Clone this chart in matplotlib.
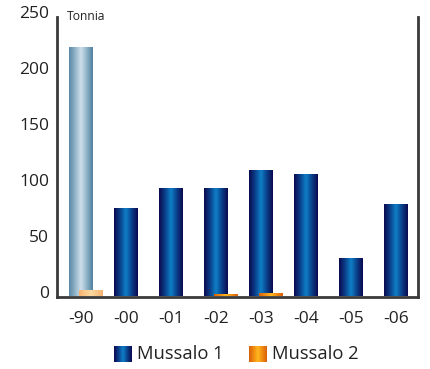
import numpy as np
import matplotlib
matplotlib.use("Agg")
import matplotlib.pyplot as plt
import matplotlib.transforms as mtrans
from matplotlib.colors import LinearSegmentedColormap

categories = ["-90", "-00", "-01", "-02", "-03", "-04", "-05", "-06"]
mussalo1 = [222, 78, 96, 96, 112, 109, 33.5, 82]
mussalo2 = [5, 0, 0, 1.3, 2, 0, 0, 0]
series_names = ["Mussalo 1", "Mussalo 2"]
unit_label = "Tonnia"
yticks = [0, 50, 100, 150, 200, 250]

plt.rcParams['font.family'] = ['Open Sans', 'DejaVu Sans']

W, H = 431, 369
fig = plt.figure(figsize=(W / 100, H / 100), dpi=100)
ax = fig.add_axes([57 / W, (H - 296.5) / H, (418 - 57) / W, (296.5 - 17) / H])

cm_blue = LinearSegmentedColormap.from_list("b", ["#0a0a50", "#0b3f8a", "#0f80c8", "#0b3f8a", "#0a0a50"])
cm_light = LinearSegmentedColormap.from_list("l", ["#5a88a6", "#8fb3c8", "#cfe0ea", "#8fb3c8", "#4f7f9e"])
cm_orange = LinearSegmentedColormap.from_list("o", ["#d8600c", "#f08a10", "#ffb820", "#f08a10", "#d8600c"])
cm_peach = LinearSegmentedColormap.from_list("p", ["#f4b070", "#f8c888", "#fcd8a0", "#f8c888", "#f4b070"])

grad = np.linspace(0, 1, 64).reshape(1, -1)
bw = 0.533
off = 0.222

def gbar(x0, h, cmap, z):
    if h <= 0:
        return
    ax.imshow(grad, cmap=cmap, extent=[x0, x0 + bw, 0, h], aspect='auto',
              interpolation='bicubic', zorder=z)

for i, (v1, v2) in enumerate(zip(mussalo1, mussalo2)):
    gbar(i - bw / 2, v1, cm_light if i == 0 else cm_blue, 2)
    gbar(i - bw / 2 + off, v2, cm_peach if i == 0 else cm_orange, 3)

ax.set_xlim(-0.533, 7.49)
ax.set_ylim(0, 250)
ax.set_xticks(range(len(categories)))
ax.set_xticklabels(categories, fontsize=12.5, color="#222222")
ax.set_yticks(yticks)
ax.set_yticklabels([str(t) for t in yticks], fontsize=12.5, color="#222222")
ax.tick_params(axis='both', length=0)
ax.tick_params(axis='y', pad=5.5)
ax.tick_params(axis='x', pad=10.5)
for lab in ax.get_yticklabels():
    lab.set_transform(lab.get_transform() + mtrans.ScaledTranslation(0, 5 / 100, fig.dpi_scale_trans))

for s in ['left', 'bottom', 'right']:
    ax.spines[s].set_linewidth(2)
    ax.spines[s].set_color("#3a3a3a")
ax.spines['top'].set_visible(False)

ax.text(10 / (418 - 57), 1.0, unit_label, transform=ax.transAxes, fontsize=8.7,
        ha='left', va='center', color="#222222")

# legend
leg_items = [(114, series_names[0], cm_blue), (249, series_names[1], cm_orange)]
for x, name, cmap in leg_items:
    lax = fig.add_axes([x / W, (H - 362) / H, 17.5 / W, 16 / H])
    lax.imshow(grad, cmap=cmap, aspect='auto', interpolation='bicubic')
    lax.axis('off')
    fig.text((x + 23.5) / W, (H - 354) / H, name, fontsize=13.2, ha='left', va='center', color="#222222")

fig.savefig("out.png", dpi=100)
